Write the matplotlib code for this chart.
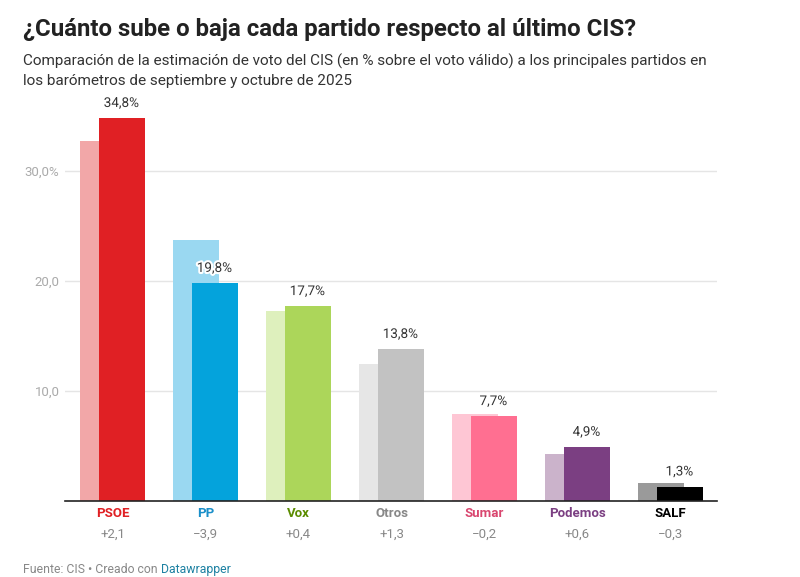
import numpy as np
import matplotlib.pyplot as plt
import matplotlib.patheffects as pe

plt.rcParams['font.family'] = ['Roboto', 'DejaVu Sans']

# datos: septiembre (anterior) y octubre (actual) 2025
partidos = ["PSOE", "PP", "Vox", "Otros", "Sumar", "Podemos", "SALF"]
actual = [34.8, 19.8, 17.7, 13.8, 7.7, 4.9, 1.3]
anterior = [32.7, 23.7, 17.3, 12.5, 7.9, 4.3, 1.6]
diferencias = ["+2,1", "\u22123,9", "+0,4", "+1,3", "\u22120,2", "+0,6", "\u22120,3"]
etiquetas = ["34,8%", "19,8%", "17,7%", "13,8%", "7,7%", "4,9%", "1,3%"]
yticks = [10, 20, 30]
ytick_labels = ["10,0", "20,0", "30,0%"]

col_actual = ["#e02024", "#04a3dc", "#acd65a", "#c2c2c2", "#ff6f91", "#7b3f82", "#000000"]
col_anterior = ["#f2a7a8", "#9ad8f1", "#def0bd", "#e6e6e6", "#fec6d4", "#cbb3cb", "#9a9a9a"]
col_texto = ["#e02024", "#1a8fc9", "#5b8c00", "#888888", "#d9466f", "#7b3f82", "#000000"]

W, H = 800, 577
fig = plt.figure(figsize=(8, 5.77), dpi=100)
ax = fig.add_axes([65 / W, (H - 501) / H, (717 - 65) / W, (501 - 105) / H])

x = np.arange(len(partidos))
ancho = 0.495
ax.bar(x - 0.102, anterior, width=ancho, color=col_anterior, zorder=2)
ax.bar(x + 0.097, actual, width=ancho, color=col_actual, zorder=3)

for i in range(len(partidos)):
    ax.text(x[i] + 0.097, actual[i] + 0.75, etiquetas[i], ha="center", va="bottom",
            fontsize=9.7, color="#333333", zorder=5,
            path_effects=[pe.withStroke(linewidth=3, foreground="white")])
    ax.text(x[i], -0.55, partidos[i], ha="center", va="top", fontsize=9.5,
            fontweight="bold", color=col_texto[i])
    ax.text(x[i], -2.45, diferencias[i], ha="center", va="top", fontsize=9.5,
            color="#888888")

ax.set_xlim(-0.511, 6.5)
ax.set_ylim(0, 36)
ax.set_yticks(yticks)
ax.set_yticklabels(ytick_labels)
ax.tick_params(axis="y", length=0, pad=4, labelsize=9.5, labelcolor="#aaaaaa")
ax.set_xticks([])
ax.grid(axis="y", color="#e5e5e5", linewidth=1, zorder=0)
for s in ["top", "right", "left"]:
    ax.spines[s].set_visible(False)
ax.spines["bottom"].set_color("#222222")
ax.spines["bottom"].set_linewidth(1.2)
ax.spines["bottom"].set_zorder(4)

fig.text(23 / W, 1 - 36 / H, "\u00bfCu\u00e1nto sube o baja cada partido respecto al \u00faltimo CIS?",
         fontsize=17.3, fontweight="bold", color="#222222", va="baseline")
fig.text(23 / W, 1 - 66 / H, "Comparaci\u00f3n de la estimaci\u00f3n de voto del CIS (en % sobre el voto v\u00e1lido) a los principales partidos en",
         fontsize=11, color="#333333", va="baseline")
fig.text(23 / W, 1 - 85 / H, "los bar\u00f3metros de septiembre y octubre de 2025",
         fontsize=11, color="#333333", va="baseline")

pie = fig.text(23 / W, 1 - 573 / H, "Fuente: CIS \u2022 Creado con", fontsize=8.8,
               color="#888888", va="baseline")
ax.annotate("Datawrapper", xy=(1, 0), xycoords=pie, xytext=(2.6, 0),
            textcoords="offset points", fontsize=8.8, color="#1d81a2",
            va="bottom", annotation_clip=False)

fig.savefig("out.png", dpi=100)
